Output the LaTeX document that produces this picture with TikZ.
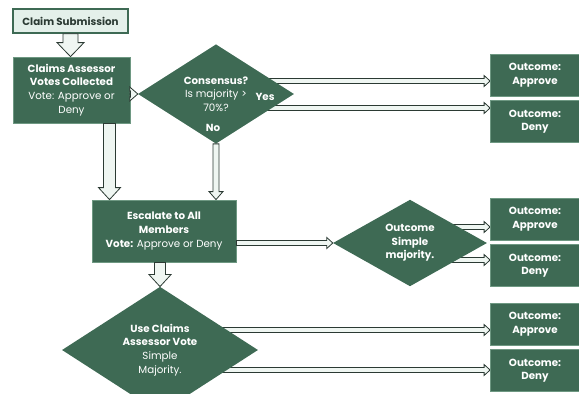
\documentclass[tikz,border=0pt]{standalone}
\usepackage{fontspec}
\setmainfont{Poppins}
\usetikzlibrary{shapes.geometric, positioning, calc, backgrounds}
\definecolor{leaf}{HTML}{3E6A54}
\definecolor{leafedge}{HTML}{6E9882}
\definecolor{mint}{HTML}{E4F0EA}
\definecolor{ink}{HTML}{2B3A33}
\newcommand{\flowfont}{\fontsize{10.3}{13.6}\selectfont}
\tikzstyle{start} = [rectangle, minimum width=115pt, minimum height=24pt, draw=leaf, line width=1.6pt, fill=mint, text=ink, font=\flowfont\bfseries]
\tikzstyle{process} = [rectangle, inner sep=0pt, draw=leafedge, line width=0.8pt, fill=leaf, text=white, align=center]
\tikzstyle{decision} = [diamond, inner sep=0pt, fill=leaf, text=white, align=center]
\tikzstyle{outcome} = [process, minimum width=89pt, minimum height=42pt, font=\flowfont\bfseries]
\tikzstyle{tag} = [text=white, font=\flowfont\bfseries]
% hollow arrow: shaft half width, head half width, head length
\tikzset{hollow/.style n args={3}{draw=ink, fill=mint!60, line width=0.8pt,
    to path={($(\tikztostart)!#1!90:(\tikztotarget)$)
      -- ($(\tikztotarget)!#3!(\tikztostart)!#1!-90:(\tikztostart)$)
      -- ($(\tikztotarget)!#3!(\tikztostart)!#2!-90:(\tikztostart)$)
      -- (\tikztotarget)
      -- ($(\tikztotarget)!#3!(\tikztostart)!#2!90:(\tikztostart)$)
      -- ($(\tikztotarget)!#3!(\tikztostart)!#1!90:(\tikztostart)$)
      -- ($(\tikztostart)!#1!-90:(\tikztotarget)$) -- cycle}}}
\tikzstyle{thin} = [hollow={2.5pt}{5.5pt}{6pt}]

\begin{document}
\begin{tikzpicture}[x=1pt, y=-1pt, font=\flowfont]
    \useasboundingbox (0,0) rectangle (579,394);

    \node (claim) [start] at (70.5,21) {Claim Submission};
    \node (assess) [process, minimum width=117pt, minimum height=66pt] at (71.5,90) {\textbf{Claims Assessor}\\\textbf{Votes Collected}\\Vote: Approve or\\Deny};
    \node (consensus) [decision, minimum width=156pt, minimum height=92pt] at (216,94) {\textbf{Consensus?}\\Is majority >\\70\%?};
    \node (yes) [tag] at (265,97) {Yes};
    \node (no) [tag] at (213,128) {No};
    \node (yesA) [outcome] at (535,75) {Outcome:\\Approve};
    \node (yesD) [outcome, below=4pt of yesA] {Outcome:\\Deny};

    \node (escalate) [process, minimum width=144pt, minimum height=62pt] at (164,231) {\textbf{Escalate to All}\\\textbf{Members}\\\textbf{Vote:} Approve or Deny};
    \node (simple) [decision, minimum width=154pt, minimum height=77pt, font=\flowfont\bfseries] at (410,243) {Outcome\\Simple\\majority.};
    \node (smA) [outcome] at (535,219) {Outcome:\\Approve};
    \node (smD) [outcome, below=4pt of smA] {Outcome:\\Deny};

    \node (usevote) [decision, minimum width=196pt, minimum height=86pt] at (160,350) {\textbf{Use Claims}\\\textbf{Assessor Vote}\\Simple\\Majority.};
    \node (uvA) [outcome] at (535,324) {Outcome:\\Approve};
    \node (uvD) [outcome, below=4pt of uvA] {Outcome:\\Deny};

    \draw [hollow={7.5pt}{13.5pt}{14pt}] (claim.south) to (claim.south |- assess.north);
    \draw [hollow={3.5pt}{7pt}{8pt}] (assess.east |- consensus.west) to (consensus.west);
    \draw [hollow={6pt}{11pt}{12pt}] ([xshift=38pt]assess.south) to ([xshift=38pt]assess.south |- escalate.north);
    \draw [hollow={3pt}{7pt}{8pt}] (consensus.south) to (consensus.south |- escalate.north);
    \draw [hollow={5.5pt}{11pt}{12pt}] (escalate.south -| usevote.north) to (usevote.north);
    \draw [thin] ([yshift=-12pt]escalate.east) to ([yshift=-12pt]escalate.east -| simple.west);

    \begin{scope}[on background layer]
        \draw [thin] ([yshift=13pt]consensus.center) to ([yshift=13pt]consensus.center -| yesA.west);
        \draw [thin] ([yshift=-14pt]consensus.center) to ([yshift=-14pt]consensus.center -| yesD.west);
        \draw [thin] ([yshift=16pt]simple.center) to ([yshift=16pt]simple.center -| smA.west);
        \draw [thin] ([yshift=-17pt]simple.center) to ([yshift=-17pt]simple.center -| smD.west);
        \draw [thin] ([yshift=20pt]usevote.center) to ([yshift=20pt]usevote.center -| uvA.west);
        \draw [thin] ([yshift=-20pt]usevote.center) to ([yshift=-20pt]usevote.center -| uvD.west);
    \end{scope}
\end{tikzpicture}
\end{document}
